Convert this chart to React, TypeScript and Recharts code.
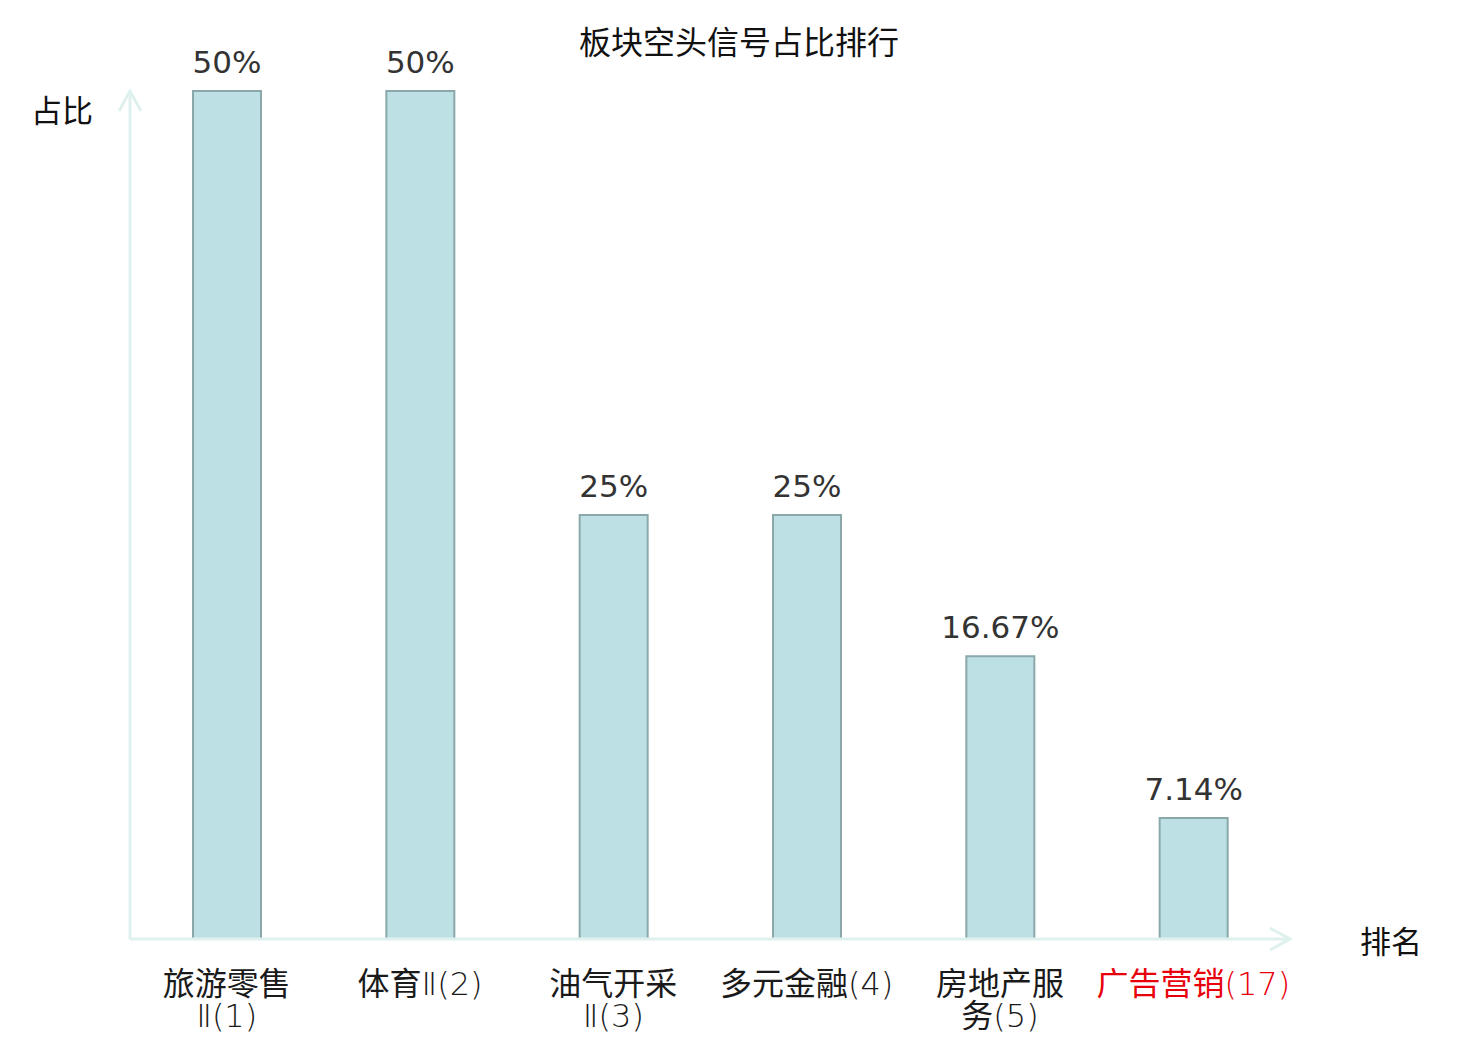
import React from 'react';
import { BarChart, Bar, XAxis, YAxis, LabelList } from 'recharts';

// sector names (rank in brackets), line breaks as in the original labels
const categories = [
  '旅游零售\nⅡ(1)',
  '体育Ⅱ(2)',
  '油气开采\nⅡ(3)',
  '多元金融(4)',
  '房地产服\n务(5)',
  '广告营销(17)',
];
const shares = [50, 50, 25, 25, 16.67, 7.14];
const highlighted = [false, false, false, false, false, true];

const data = categories.map((name, i) => ({ name, value: shares[i], hot: highlighted[i] }));

const AXIS_COLOR = '#dff1ee';
const CJK = '"Noto Sans CJK SC", "Noto Sans", sans-serif';
const LATIN = '"DejaVu Sans", sans-serif';

// split a line into CJK / non-CJK runs so the latin part can use a thin face
const runs = (line: string) => line.split(/([\u4e00-\u9fff]+)/).filter((s) => s.length > 0);
const isCjk = (s: string) => /[\u4e00-\u9fff]/.test(s);

const CategoryTick = (props: any) => {
  const { x, y, payload, index } = props;
  const lines = String(payload.value).split('\n');
  const red = highlighted[index];
  return (
    <text
      x={x}
      y={y}
      textAnchor="middle"
      fontFamily={CJK}
      fontSize={32}
      fill={red ? '#e8000b' : '#1a1a1a'}
    >
      {lines.map((line, i) =>
        runs(line).map((part, j) => (
          <tspan
            key={`${i}-${j}`}
            x={j === 0 ? x : undefined}
            dy={j === 0 ? (i === 0 ? 56 : 32) : undefined}
            fontFamily={isCjk(part) ? CJK : LATIN}
            fontWeight={isCjk(part) ? 400 : 200}
          >
            {part}
          </tspan>
        ))
      )}
    </text>
  );
};

export default function App() {
  return (
    <div style={{ position: 'absolute', left: 0, top: 0, width: 1480, height: 1040, background: '#fff' }}>
      <BarChart
        width={1480}
        height={1040}
        data={data}
        margin={{ top: 91, right: 190, bottom: 0, left: 0 }}
      >
        <defs>
          <marker
            id="axis-arrow"
            markerUnits="userSpaceOnUse"
            markerWidth={26}
            markerHeight={26}
            viewBox="0 0 26 26"
            refX={22}
            refY={13}
            orient="auto-start-reverse"
          >
            <path d="M2,2 L22,13 L2,24" fill="none" stroke={AXIS_COLOR} strokeWidth={3} />
          </marker>
        </defs>

        <text x={739} y={54} textAnchor="middle" fontFamily={CJK} fontSize={32} fill="#111">
          板块空头信号占比排行
        </text>
        <text x={62} y={122} textAnchor="middle" fontFamily={CJK} fontSize={31} fill="#111">
          占比
        </text>
        <text x={1391} y={953} textAnchor="middle" fontFamily={CJK} fontSize={31} fill="#111">
          排名
        </text>

        <XAxis
          dataKey="name"
          height={101}
          interval={0}
          tickSize={0}
          tickMargin={0}
          tickLine={false}
          axisLine={{ stroke: AXIS_COLOR, strokeWidth: 3, markerEnd: 'url(#axis-arrow)' }}
          tick={<CategoryTick />}
        />
        <YAxis
          width={130}
          domain={[0, 50]}
          tick={false}
          tickLine={false}
          axisLine={{ stroke: AXIS_COLOR, strokeWidth: 3, markerStart: 'url(#axis-arrow)' }}
        />

        <Bar
          dataKey="value"
          barSize={68}
          fill="#bce0e3"
          stroke="#8aa8aa"
          strokeWidth={2}
          isAnimationActive={false}
        >
          <LabelList
            dataKey="value"
            position="top"
            offset={18}
            formatter={(v: any) => `${v}%`}
            fill="#333"
            fontSize={31}
            fontFamily={LATIN}
          />
        </Bar>
      </BarChart>
    </div>
  );
}
